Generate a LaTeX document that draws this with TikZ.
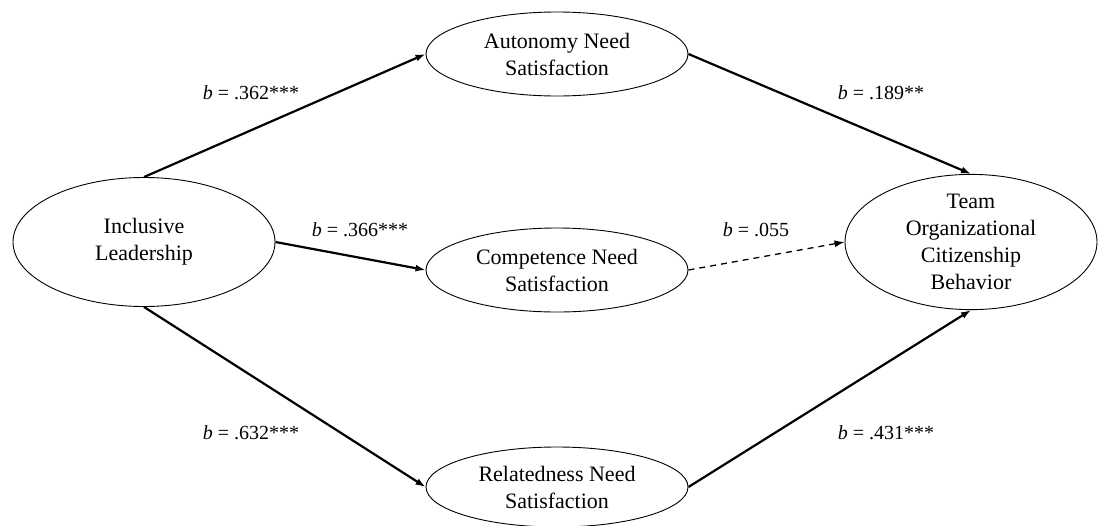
\documentclass[tikz,border=0pt]{standalone}
\usepackage{fontspec}
\setmainfont{Liberation Serif}
\usetikzlibrary{shapes.geometric,arrows.meta}
\begin{document}
\begin{tikzpicture}[x=1pt,y=-1pt,
  var/.style={draw,ellipse,line width=0.9pt,inner sep=0pt,align=center,
    font=\fontsize{22}{27}\selectfont},
  path/.style={line width=2.2pt,-{Latex[length=10pt,width=7pt]}},
  nspath/.style={line width=1.3pt,dash pattern=on 6pt off 5pt,-{Latex[length=10pt,width=7pt]}},
  coef/.style={font=\fontsize{20}{24}\selectfont}]
\useasboundingbox (0,0) rectangle (1099,525);
\node[var,minimum width=262pt,minimum height=129pt] (il) at (144,242) {Inclusive\\Leadership};
\node[var,minimum width=262pt,minimum height=84pt] (au) at (557,54) {Autonomy Need\\Satisfaction};
\node[var,minimum width=262pt,minimum height=84pt] (co) at (557,270) {Competence Need\\Satisfaction};
\node[var,minimum width=262pt,minimum height=80pt] (re) at (557,487) {Relatedness Need\\Satisfaction};
\node[var,minimum width=252pt,minimum height=128pt] (oc) at (971,242) {Team\\Organizational\\Citizenship\\Behavior};
\draw[path] (il.north) -- (au.west);
\draw[path] (il.east) -- (co.west);
\draw[path] (il.south) -- (re.west);
\draw[path] (au.east) -- (oc.north);
\draw[nspath] (co.east) -- (oc.west);
\draw[path] (re.east) -- (oc.south);
\node[coef] (l1) at (251,93) {\textit{b} = .362***};
\node[coef] (l2) at (360,230) {\textit{b} = .366***};
\node[coef] (l3) at (251,433) {\textit{b} = .632***};
\node[coef] (l4) at (881,93) {\textit{b} = .189**};
\node[coef] (l5) at (756,230) {\textit{b} = .055};
\node[coef] (l6) at (886,433) {\textit{b} = .431***};
\end{tikzpicture}
\end{document}
